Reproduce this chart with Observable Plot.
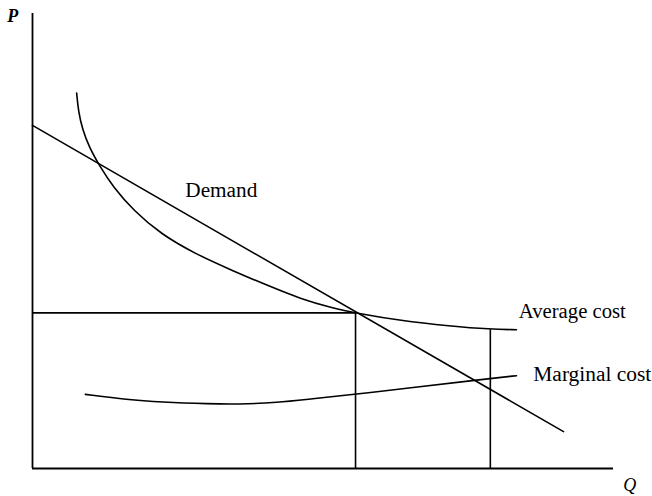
<!DOCTYPE html>
<html>
<head>
<meta charset="utf-8">
<script src="https://cdn.jsdelivr.net/npm/d3@7"></script>
<script src="https://cdn.jsdelivr.net/npm/@observablehq/plot@0.6"></script>
<style>
  html, body { margin: 0; padding: 0; background: #fff; }
  #chart svg { display: block; }
</style>
</head>
<body>
<div id="chart"></div>
<script>
// Average cost curve (Q, P)
const acQ = [7.6, 7.9, 8.6, 9.8, 11.5, 13.9, 17.4, 22, 28.1, 34.6, 40.5, 46.1, 51.8, 55.6, 63.3, 71.9, 78.8, 83.3];
const acP = [82.5, 78.5, 74.5, 70.5, 66.6, 61.8, 56.7, 51.6, 47.1, 43.4, 40.2, 37.3, 35.2, 34.2, 32.5, 31.3, 30.6, 30.5];
// Marginal cost curve
const mcQ = [9.1, 16.4, 22, 30.6, 35.3, 42.2, 47.9, 55.6, 78.8, 83.3];
const mcP = [16.3, 15.1, 14.6, 14.2, 14.1, 14.5, 15.3, 16.3, 19.8, 20.4];
// Demand line
const demandQ = [0, 91.4];
const demandP = [75.4, 8.1];
// Equilibrium and minimum-average-cost points
const eqQ = 55.6, eqP = 34.2;
const minACQ = 78.8, minACP = 30.5;
// Labels
const labelText = ["Demand", "Average cost", "Marginal cost"];
const labelQ = [26.3, 83.7, 86.2];
const labelP = [61.0, 34.4, 20.7];
const labelLen = [72, 107, 118];

const ac = acQ.map((q, i) => ({q, p: acP[i]}));
const mc = mcQ.map((q, i) => ({q, p: mcP[i]}));
const demand = demandQ.map((q, i) => ({q, p: demandP[i]}));
const labels = labelText.map((t, i) => ({t, q: labelQ[i], p: labelP[i]}));

const sw = 1.6;
const chart = Plot.plot({
  width: 652,
  height: 496,
  marginLeft: 32,
  marginRight: 39,
  marginTop: 13,
  marginBottom: 28,
  x: {domain: [0, 100], axis: null},
  y: {domain: [0, 100], axis: null},
  style: {fontFamily: "'Liberation Serif', 'DejaVu Serif', serif", background: "#fff", overflow: "visible"},
  marks: [
    Plot.ruleX([0], {y1: 0, y2: 100, stroke: "#000", strokeWidth: 1.8}),
    Plot.ruleY([0], {x1: 0, x2: 100, stroke: "#000", strokeWidth: 1.8}),
    Plot.ruleY([eqP], {x1: 0, x2: eqQ, stroke: "#000", strokeWidth: sw}),
    Plot.ruleX([eqQ], {y1: 0, y2: eqP, stroke: "#000", strokeWidth: sw}),
    Plot.ruleX([minACQ], {y1: 0, y2: minACP, stroke: "#000", strokeWidth: sw}),
    Plot.line(demand, {x: "q", y: "p", stroke: "#000", strokeWidth: sw}),
    Plot.line(ac, {x: "q", y: "p", stroke: "#000", strokeWidth: sw, curve: "basis"}),
    Plot.line(mc, {x: "q", y: "p", stroke: "#000", strokeWidth: sw, curve: "basis"}),
    Plot.text(labels, {x: "q", y: "p", text: "t", textAnchor: "start", lineAnchor: "middle", fontSize: 20, fill: "#000", className: "lbl"}),
    Plot.text(["P"], {x: -3.4, y: 99.3, text: d => d, fontSize: 18, fontStyle: "italic", fontWeight: "bold", fill: "#000", lineAnchor: "middle"}),
    Plot.text(["Q"], {x: 102.8, y: -3.7, text: d => d, fontSize: 18, fontStyle: "italic", fill: "#000", lineAnchor: "middle"})
  ]
});
document.getElementById("chart").appendChild(chart);
d3.select(chart).selectAll(".lbl text").each(function(d, i) {
  d3.select(this).attr("textLength", labelLen[i]).attr("lengthAdjust", "spacingAndGlyphs");
});
</script>
</body>
</html>
